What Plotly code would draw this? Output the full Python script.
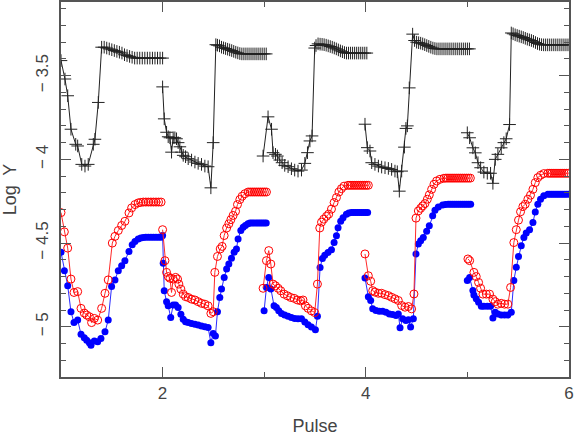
"""pulse_logy.py
Log Y against pulse for three measured series, five pulses side by side.
"""

import plotly.graph_objects as go

# ---- black "+" series, one list pair per pulse ----
PLUS_X_1 = [1.000, 1.039, 1.066, 1.098, 1.145, 1.164, 1.204, 1.236, 1.268, 1.318, 1.334, 1.367, 1.400,
            1.425, 1.450, 1.475, 1.500, 1.525, 1.550, 1.575, 1.600, 1.625, 1.650, 1.675, 1.700, 1.725,
            1.750, 1.775, 1.800, 1.825, 1.850, 1.875, 1.900, 1.925, 1.950, 1.975, 2.000]
PLUS_Y_1 = [-3.410, -3.520, -3.620, -3.820, -3.910, -3.920, -4.030, -4.040, -4.030, -3.910, -3.880, -3.660, -3.330,
            -3.330, -3.335, -3.340, -3.345, -3.350, -3.355, -3.360, -3.365, -3.375, -3.380, -3.385, -3.390, -3.395,
            -3.395, -3.395, -3.395, -3.395, -3.395, -3.395, -3.395, -3.395, -3.395, -3.395, -3.395]
PLUS_X_2 = [2.000, 2.016, 2.039, 2.055, 2.072, 2.088, 2.104, 2.121, 2.137, 2.153, 2.170, 2.187, 2.203, 2.226,
            2.252, 2.285, 2.318, 2.350, 2.383, 2.416, 2.448, 2.475, 2.498, 2.524, 2.540, 2.560, 2.580, 2.600,
            2.620, 2.640, 2.660, 2.680, 2.700, 2.720, 2.740, 2.760, 2.780, 2.800, 2.820, 2.840, 2.860, 2.880,
            2.900, 2.920, 2.940, 2.960, 2.980, 3.000, 3.020]
PLUS_Y_2 = [-3.567, -3.758, -3.838, -3.865, -3.871, -3.957, -3.871, -3.871, -3.877, -3.900, -3.925, -3.957, -3.976, -3.984,
            -3.996, -4.004, -4.016, -4.024, -4.030, -4.040, -4.044, -4.170, -3.900, -3.315, -3.318, -3.322, -3.330, -3.334,
            -3.338, -3.342, -3.346, -3.350, -3.355, -3.360, -3.364, -3.368, -3.370, -3.370, -3.370, -3.370, -3.370, -3.370,
            -3.370, -3.370, -3.370, -3.370, -3.370, -3.370, -3.370]
PLUS_X_3 = [2.989, 3.038, 3.072, 3.087, 3.111, 3.130, 3.153, 3.176, 3.202, 3.235, 3.268, 3.300, 3.333, 3.367,
            3.400, 3.426, 3.450, 3.471, 3.497, 3.510, 3.530, 3.550, 3.570, 3.590, 3.610, 3.630, 3.650, 3.670,
            3.690, 3.710, 3.730, 3.750, 3.770, 3.790, 3.810, 3.830, 3.850, 3.870, 3.890, 3.910, 3.930, 3.950,
            3.970, 3.990, 4.010]
PLUS_Y_3 = [-3.980, -3.746, -3.820, -3.960, -3.970, -3.980, -4.004, -4.020, -4.036, -4.044, -4.056, -4.064, -4.070, -4.064,
            -4.024, -3.960, -3.890, -3.860, -3.335, -3.320, -3.310, -3.312, -3.313, -3.315, -3.318, -3.322, -3.326, -3.330,
            -3.335, -3.340, -3.346, -3.352, -3.357, -3.362, -3.365, -3.365, -3.365, -3.365, -3.365, -3.365, -3.365, -3.365,
            -3.365, -3.365, -3.365]
PLUS_X_4 = [3.992, 4.015, 4.041, 4.058, 4.090, 4.124, 4.156, 4.189, 4.222, 4.254, 4.287, 4.310, 4.330, 4.353,
            4.380, 4.395, 4.409, 4.428, 4.461, 4.480, 4.500, 4.520, 4.540, 4.560, 4.580, 4.600, 4.620, 4.640,
            4.660, 4.680, 4.700, 4.720, 4.740, 4.760, 4.780, 4.800, 4.820, 4.840, 4.860, 4.880, 4.900, 4.920,
            4.940, 4.960, 4.980, 5.000, 5.020]
PLUS_Y_4 = [-3.790, -3.930, -3.950, -4.020, -4.030, -4.040, -4.046, -4.050, -4.054, -4.060, -4.070, -4.074, -4.190, -4.070,
            -3.927, -3.815, -3.800, -3.573, -3.252, -3.290, -3.300, -3.303, -3.306, -3.310, -3.315, -3.320, -3.325, -3.330,
            -3.335, -3.338, -3.340, -3.340, -3.340, -3.340, -3.340, -3.340, -3.340, -3.340, -3.340, -3.340, -3.340, -3.340,
            -3.340, -3.340, -3.340, -3.340, -3.340]
PLUS_X_5 = [4.999, 5.022, 5.054, 5.078, 5.104, 5.130, 5.162, 5.196, 5.228, 5.251, 5.274, 5.300, 5.333, 5.359,
            5.382, 5.415, 5.432, 5.450, 5.470, 5.490, 5.510, 5.530, 5.550, 5.570, 5.590, 5.610, 5.630, 5.650,
            5.670, 5.690, 5.710, 5.730, 5.750, 5.770, 5.790, 5.810, 5.830, 5.850, 5.870, 5.890, 5.910, 5.930,
            5.950, 5.970, 5.990]
PLUS_Y_5 = [-3.841, -3.871, -3.931, -3.961, -4.020, -4.050, -4.076, -4.083, -4.083, -4.143, -4.000, -3.970, -3.931, -3.900,
            -3.877, -3.792, -3.245, -3.250, -3.256, -3.260, -3.264, -3.268, -3.272, -3.277, -3.282, -3.286, -3.290, -3.295,
            -3.302, -3.308, -3.312, -3.315, -3.316, -3.316, -3.316, -3.316, -3.316, -3.316, -3.316, -3.316, -3.316, -3.316,
            -3.316, -3.316, -3.316]

# ---- red open-circle series ----
RING_X_1 = [1.000, 1.033, 1.066, 1.098, 1.128, 1.164, 1.197, 1.229, 1.253, 1.279, 1.301, 1.328, 1.361, 1.400,
            1.433, 1.465, 1.505, 1.531, 1.564, 1.597, 1.629, 1.669, 1.695, 1.728, 1.760, 1.785, 1.810, 1.835,
            1.860, 1.885, 1.910, 1.935, 1.960, 1.985]
RING_Y_1 = [-4.318, -4.433, -4.530, -4.715, -4.795, -4.790, -4.890, -4.918, -4.930, -4.940, -4.975, -4.950, -4.960, -4.890,
            -4.800, -4.720, -4.500, -4.460, -4.425, -4.395, -4.370, -4.320, -4.290, -4.270, -4.260, -4.257, -4.255, -4.255,
            -4.255, -4.255, -4.255, -4.255, -4.255, -4.255]
RING_X_2 = [2.000, 2.023, 2.039, 2.055, 2.072, 2.088, 2.104, 2.128, 2.147, 2.160, 2.180, 2.203, 2.226, 2.252,
            2.285, 2.318, 2.350, 2.383, 2.416, 2.448, 2.475, 2.498, 2.514, 2.540, 2.567, 2.586, 2.606, 2.630,
            2.652, 2.672, 2.694, 2.718, 2.737, 2.760, 2.783, 2.810, 2.842, 2.862, 2.882, 2.902, 2.922, 2.942,
            2.962, 2.982, 3.002, 3.022]
RING_Y_2 = [-4.420, -4.605, -4.675, -4.700, -4.710, -4.795, -4.715, -4.705, -4.715, -4.745, -4.775, -4.805, -4.820, -4.825,
            -4.835, -4.840, -4.850, -4.860, -4.865, -4.875, -4.920, -4.910, -4.675, -4.580, -4.535, -4.520, -4.455, -4.410,
            -4.385, -4.360, -4.335, -4.310, -4.270, -4.240, -4.220, -4.205, -4.195, -4.195, -4.195, -4.195, -4.195, -4.195,
            -4.195, -4.195, -4.195, -4.195]
RING_X_3 = [2.989, 3.022, 3.045, 3.065, 3.087, 3.111, 3.137, 3.163, 3.196, 3.229, 3.261, 3.294, 3.327, 3.360,
            3.382, 3.406, 3.432, 3.465, 3.497, 3.524, 3.547, 3.564, 3.586, 3.613, 3.635, 3.662, 3.688, 3.711,
            3.735, 3.760, 3.786, 3.825, 3.845, 3.865, 3.885, 3.905, 3.925, 3.945, 3.965, 3.985, 4.005, 4.025]
RING_Y_3 = [-4.770, -4.605, -4.545, -4.625, -4.745, -4.755, -4.770, -4.785, -4.805, -4.815, -4.825, -4.830, -4.840, -4.845,
            -4.840, -4.875, -4.890, -4.905, -4.915, -4.745, -4.410, -4.375, -4.357, -4.340, -4.327, -4.297, -4.258, -4.228,
            -4.195, -4.175, -4.160, -4.155, -4.155, -4.155, -4.155, -4.155, -4.155, -4.155, -4.155, -4.155, -4.155, -4.155]
RING_X_4 = [3.992, 4.025, 4.048, 4.068, 4.090, 4.124, 4.156, 4.189, 4.222, 4.254, 4.287, 4.320, 4.353, 4.386,
            4.419, 4.451, 4.474, 4.494, 4.517, 4.540, 4.560, 4.582, 4.606, 4.625, 4.648, 4.671, 4.697, 4.730,
            4.769, 4.789, 4.809, 4.829, 4.849, 4.869, 4.889, 4.909, 4.929, 4.949, 4.969, 4.989, 5.009, 5.029]
RING_Y_4 = [-4.565, -4.695, -4.728, -4.784, -4.793, -4.800, -4.800, -4.808, -4.814, -4.824, -4.833, -4.843, -4.873, -4.883,
            -4.879, -4.893, -4.804, -4.351, -4.308, -4.292, -4.278, -4.264, -4.238, -4.212, -4.179, -4.149, -4.129, -4.119,
            -4.113, -4.112, -4.112, -4.112, -4.112, -4.112, -4.112, -4.112, -4.112, -4.112, -4.112, -4.112, -4.112, -4.112]
RING_X_5 = [5.005, 5.022, 5.064, 5.087, 5.110, 5.130, 5.153, 5.186, 5.218, 5.251, 5.274, 5.300, 5.333, 5.366,
            5.398, 5.425, 5.457, 5.481, 5.503, 5.523, 5.546, 5.569, 5.595, 5.621, 5.645, 5.668, 5.693, 5.720,
            5.752, 5.792, 5.812, 5.832, 5.852, 5.872, 5.892, 5.912, 5.932, 5.952, 5.972, 5.992]
RING_Y_5 = [-4.595, -4.605, -4.675, -4.700, -4.735, -4.770, -4.805, -4.805, -4.805, -4.835, -4.850, -4.865, -4.860, -4.865,
            -4.865, -4.765, -4.497, -4.420, -4.363, -4.313, -4.282, -4.268, -4.238, -4.214, -4.179, -4.139, -4.109, -4.095,
            -4.085, -4.083, -4.083, -4.083, -4.083, -4.083, -4.083, -4.083, -4.083, -4.083, -4.083, -4.083]

# ---- blue filled-circle series ----
DOT_X_1 = [1.000, 1.033, 1.066, 1.098, 1.128, 1.164, 1.197, 1.229, 1.253, 1.279, 1.295, 1.328, 1.361, 1.393,
           1.433, 1.465, 1.498, 1.531, 1.564, 1.597, 1.629, 1.669, 1.701, 1.728, 1.760, 1.785, 1.810, 1.835,
           1.860, 1.885, 1.910, 1.935, 1.960, 1.985]
DOT_Y_1 = [-4.555, -4.665, -4.755, -4.910, -4.975, -4.960, -5.045, -5.065, -5.080, -5.095, -5.110, -5.085, -5.090, -5.070,
           -5.030, -4.960, -4.760, -4.720, -4.665, -4.635, -4.605, -4.550, -4.510, -4.490, -4.475, -4.470, -4.467, -4.465,
           -4.465, -4.465, -4.465, -4.465, -4.465, -4.465]
DOT_X_2 = [2.000, 2.006, 2.016, 2.039, 2.055, 2.080, 2.104, 2.128, 2.153, 2.180, 2.203, 2.226, 2.252, 2.285,
           2.318, 2.350, 2.383, 2.416, 2.448, 2.475, 2.498, 2.520, 2.540, 2.563, 2.580, 2.606, 2.630, 2.652,
           2.678, 2.704, 2.727, 2.743, 2.770, 2.793, 2.815, 2.840, 2.860, 2.880, 2.900, 2.920, 2.940, 2.960,
           2.980, 3.000, 3.020]
DOT_Y_2 = [-4.455, -4.620, -4.785, -4.850, -4.875, -4.945, -4.870, -4.870, -4.885, -4.925, -4.955, -4.970, -4.975, -4.980,
           -4.985, -4.990, -4.995, -5.000, -5.005, -5.095, -5.040, -5.055, -4.910, -4.825, -4.775, -4.705, -4.655, -4.625,
           -4.590, -4.555, -4.535, -4.475, -4.425, -4.405, -4.395, -4.385, -4.380, -4.380, -4.380, -4.380, -4.380, -4.380,
           -4.380, -4.380, -4.380]
DOT_X_3 = [2.999, 3.022, 3.045, 3.065, 3.097, 3.120, 3.143, 3.170, 3.202, 3.235, 3.268, 3.300, 3.333, 3.367,
           3.400, 3.432, 3.465, 3.504, 3.524, 3.550, 3.573, 3.596, 3.628, 3.662, 3.688, 3.711, 3.727, 3.753,
           3.776, 3.809, 3.833, 3.858, 3.878, 3.898, 3.918, 3.938, 3.958, 3.978, 3.998, 4.018]
DOT_Y_3 = [-4.905, -4.765, -4.705, -4.775, -4.875, -4.885, -4.905, -4.920, -4.930, -4.937, -4.945, -4.950, -4.952, -4.952,
           -4.972, -4.988, -5.002, -5.018, -4.937, -4.646, -4.592, -4.572, -4.556, -4.540, -4.497, -4.457, -4.408, -4.370,
           -4.348, -4.328, -4.320, -4.318, -4.318, -4.318, -4.318, -4.318, -4.318, -4.318, -4.318, -4.318]
DOT_X_4 = [3.992, 4.025, 4.048, 4.068, 4.100, 4.133, 4.166, 4.199, 4.232, 4.264, 4.297, 4.320, 4.337, 4.363,
           4.395, 4.419, 4.441, 4.468, 4.494, 4.517, 4.540, 4.566, 4.599, 4.625, 4.658, 4.681, 4.714, 4.756,
           4.784, 4.812, 4.832, 4.852, 4.872, 4.892, 4.912, 4.932, 4.952, 4.972, 4.992, 5.012, 5.032]
DOT_Y_4 = [-4.708, -4.820, -4.843, -4.893, -4.903, -4.907, -4.907, -4.913, -4.923, -4.927, -4.933, -4.923, -5.006, -4.952,
           -4.962, -4.958, -5.002, -4.952, -4.565, -4.506, -4.486, -4.466, -4.430, -4.397, -4.337, -4.304, -4.284, -4.272,
           -4.270, -4.268, -4.268, -4.268, -4.268, -4.268, -4.268, -4.268, -4.268, -4.268, -4.268, -4.268, -4.268]
DOT_X_5 = [4.999, 5.022, 5.054, 5.064, 5.087, 5.110, 5.137, 5.162, 5.196, 5.228, 5.251, 5.274, 5.300, 5.333,
           5.366, 5.398, 5.432, 5.457, 5.481, 5.503, 5.530, 5.556, 5.579, 5.612, 5.645, 5.668, 5.693, 5.720,
           5.752, 5.792, 5.812, 5.832, 5.852, 5.872, 5.892, 5.912, 5.932, 5.952, 5.972, 5.992]
DOT_Y_5 = [-4.724, -4.705, -4.784, -4.810, -4.833, -4.853, -4.877, -4.877, -4.877, -4.877, -4.948, -4.913, -4.923, -4.929,
           -4.929, -4.929, -4.913, -4.724, -4.645, -4.580, -4.516, -4.466, -4.440, -4.421, -4.377, -4.314, -4.268, -4.238,
           -4.218, -4.208, -4.208, -4.208, -4.208, -4.208, -4.208, -4.208, -4.208, -4.208, -4.208, -4.208]

Y_TICKS = [-5.0, -4.5, -4.0, -3.5]
Y_TICK_TEXT = ["\u2212 5", "\u2212 4.5", "\u2212 4", "\u2212 3.5"]
X_TICKS = [2, 4, 6]
X_TICK_TEXT = ["2", "4", "6"]

FONT = "Liberation Sans, Arial, sans-serif"
TEXT_COLOR = "#444444"
FRAME_COLOR = "#555555"


def join_pulses(parts):
    """Chain the per-pulse lists with None so the lines break between pulses."""
    out = []
    for i, part in enumerate(parts):
        if i:
            out.append(None)
        out.extend(part)
    return out


fig = go.Figure()

# black crosses
fig.add_trace(go.Scatter(
    x=join_pulses([PLUS_X_1, PLUS_X_2, PLUS_X_3, PLUS_X_4, PLUS_X_5]),
    y=join_pulses([PLUS_Y_1, PLUS_Y_2, PLUS_Y_3, PLUS_Y_4, PLUS_Y_5]),
    mode="lines+markers",
    line=dict(color="#222222", width=1),
    marker=dict(symbol="cross-thin-open", size=9, line=dict(color="#111111", width=1)),
))

# blue dots
fig.add_trace(go.Scatter(
    x=join_pulses([DOT_X_1, DOT_X_2, DOT_X_3, DOT_X_4, DOT_X_5]),
    y=join_pulses([DOT_Y_1, DOT_Y_2, DOT_Y_3, DOT_Y_4, DOT_Y_5]),
    mode="lines+markers",
    line=dict(color="#2a2aff", width=1),
    marker=dict(symbol="circle", size=7, color="#0000ff", line=dict(width=0)),
))

# red rings
fig.add_trace(go.Scatter(
    x=join_pulses([RING_X_1, RING_X_2, RING_X_3, RING_X_4, RING_X_5]),
    y=join_pulses([RING_Y_1, RING_Y_2, RING_Y_3, RING_Y_4, RING_Y_5]),
    mode="lines+markers",
    line=dict(color="#ff2a2a", width=1),
    marker=dict(symbol="circle-open", size=8, color="#ff0000", line=dict(color="#ff0000", width=1)),
))

axis_common = dict(
    automargin=False,
    showline=True,
    linecolor=FRAME_COLOR,
    linewidth=1.5,
    mirror="ticks",
    ticks="inside",
    ticklen=10,
    tickwidth=1,
    tickcolor=FRAME_COLOR,
    showgrid=False,
    zeroline=False,
    tickfont=dict(family=FONT, size=17, color=TEXT_COLOR),
)

fig.update_layout(
    width=575,
    height=436,
    margin=dict(l=61, r=6, t=2, b=59),
    paper_bgcolor="white",
    plot_bgcolor="white",
    showlegend=False,
    xaxis=dict(
        range=[1, 6],
        tickvals=X_TICKS,
        ticktext=X_TICK_TEXT,
        minor=dict(tickvals=[1, 3, 5], ticklen=5, ticks="inside", tickcolor=FRAME_COLOR),
        title=dict(text="Pulse", font=dict(family=FONT, size=18, color=TEXT_COLOR), standoff=19),
        **axis_common,
    ),
    yaxis=dict(
        range=[-5.3, -3.06],
        tickvals=Y_TICKS,
        ticktext=Y_TICK_TEXT,
        tickangle=-90,
        ticklabelstandoff=4,
        minor=dict(dtick=0.1, tick0=-5.0, ticklen=5, ticks="inside", tickcolor=FRAME_COLOR),
        title=dict(text="Log  Y", font=dict(family=FONT, size=18, color=TEXT_COLOR), standoff=14),
        **axis_common,
    ),
)

# the page's default body margin would push the chart 8px right and down
fig.write_html(
    "out.html",
    config={"displayModeBar": False},
    post_script="document.body.style.margin = '0';",
)
